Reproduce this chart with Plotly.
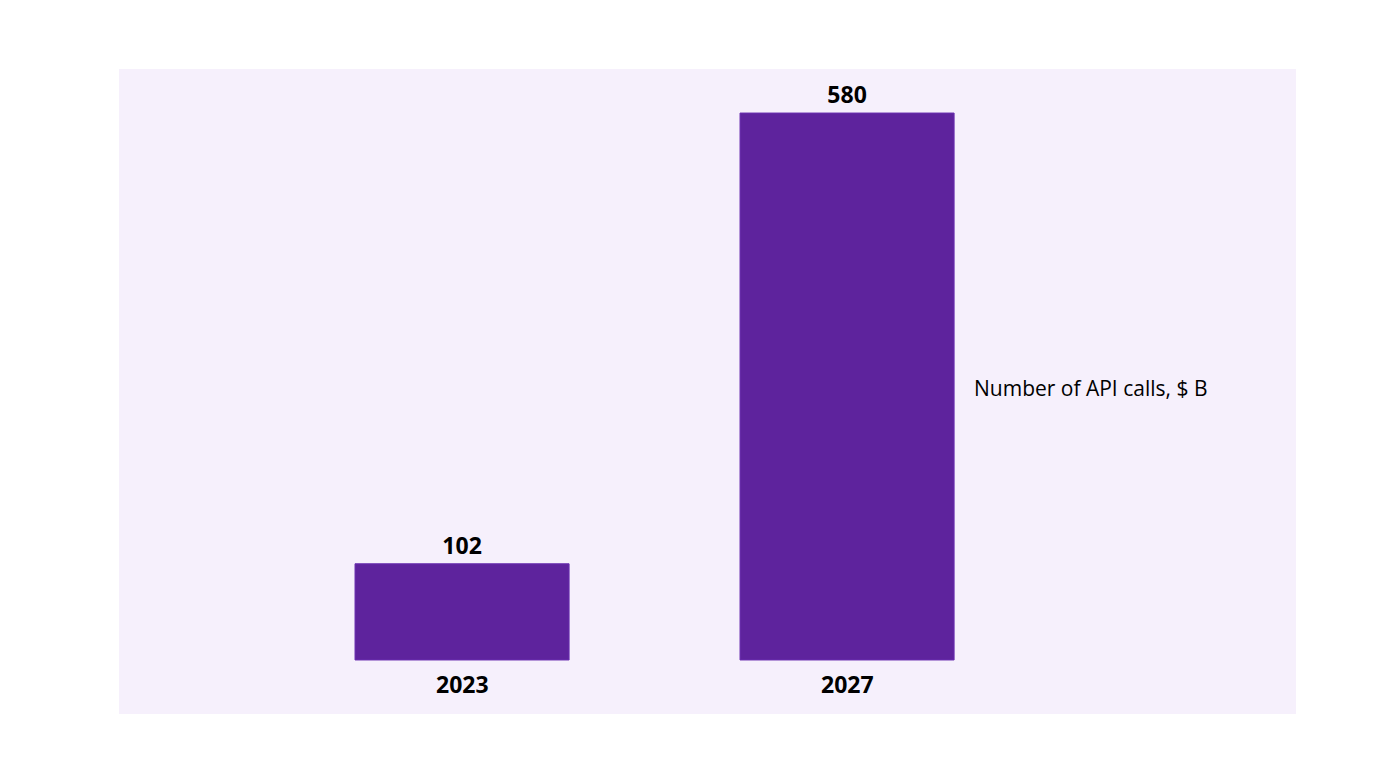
import plotly.graph_objects as go

years = ["2023", "2027"]
api_calls = [102, 580]
series_label = "Number of API calls, $ B"

positions = list(range(len(years)))

fig = go.Figure()
fig.add_trace(
    go.Bar(
        x=positions,
        y=api_calls,
        width=0.556,
        marker=dict(color="#5E239D", line=dict(color="#6A2FB0", width=1)),
        text=[str(v) for v in api_calls],
        textposition="outside",
        cliponaxis=False,
        textfont=dict(family="Open Sans", size=23, color="#000000", weight="bold"),
        hoverinfo="skip",
    )
)

# year labels under the bars
for pos, year in zip(positions, years):
    fig.add_annotation(
        x=pos, y=0, text=f"<b>{year}</b>", showarrow=False,
        yanchor="top", yshift=-6,
        font=dict(family="Open Sans", size=23, color="#000000"),
    )

fig.add_annotation(
    x=1.325, y=288, text=series_label, showarrow=False,
    xanchor="left", yanchor="middle",
    font=dict(family="Open Sans", size=21, color="#000000"),
)

fig.update_layout(
    width=1400,
    height=768,
    margin=dict(l=111, r=112, t=61, b=62),
    paper_bgcolor="#FFFFFF",
    plot_bgcolor="#F6F0FC",
    showlegend=False,
    xaxis=dict(range=[-0.891, 2.166], visible=False, fixedrange=True),
    yaxis=dict(range=[-57.3, 626.7], visible=False, fixedrange=True),
)

fig.write_html("out.html")
